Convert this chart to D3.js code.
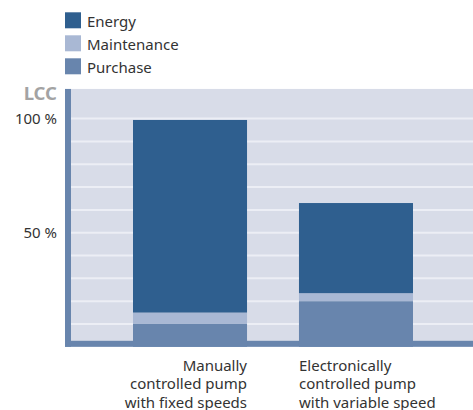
<!DOCTYPE html>
<html>
<head>
<meta charset="utf-8">
<script src="https://cdn.jsdelivr.net/npm/d3@7"></script>
<style>
  html, body { margin: 0; padding: 0; background: #fff; }
  svg { display: block; font-family: "Noto Sans", sans-serif; }
</style>
</head>
<body>
<svg id="chart" width="473" height="410"></svg>
<script>
// Life cycle cost shares (% of the fixed-speed pump's total)
const categories = ["Manually controlled pump with fixed speeds", "Electronically controlled pump with variable speed"];
const categoryLines = [
  ["Manually", "controlled pump", "with fixed speeds"],
  ["Electronically", "controlled pump", "with variable speed"]
];
const seriesNames = ["Purchase", "Maintenance", "Energy"];
const purchase = [10, 20];
const maintenance = [5, 3.5];
const energy = [84.4, 39.5];
const tickValues = [50, 100];
const tickLabels = ["50 %", "100 %"];
const gridValues = [10, 20, 30, 40, 50, 60, 70, 80, 90, 100];

const colors = { Purchase: "#6885ad", Maintenance: "#a9b8d4", Energy: "#2f5f8f" };
const legendOrder = ["Energy", "Maintenance", "Purchase"];

const svg = d3.select("#chart");

const y = d3.scaleLinear().domain([0, 100]).range([346.8, 118.6]);
const x = d3.scaleBand().domain(categories).range([133, 413]).paddingInner(0.313).paddingOuter(0);

const plotLeft = 71, plotRight = 473, plotTop = y(113), axisW = 6;

// plot background
svg.append("rect")
  .attr("x", plotLeft).attr("y", plotTop)
  .attr("width", plotRight - plotLeft).attr("height", y(0) - plotTop)
  .attr("fill", "#d8dce8");

// horizontal grid
svg.append("g").selectAll("line").data(gridValues).join("line")
  .attr("x1", plotLeft).attr("x2", plotRight)
  .attr("y1", d => y(d)).attr("y2", d => y(d))
  .attr("stroke", "#eceef5").attr("stroke-width", 2);

// axis bars (left and bottom)
svg.append("rect")
  .attr("x", plotLeft - axisW).attr("y", plotTop)
  .attr("width", axisW).attr("height", y(0) - plotTop)
  .attr("fill", "#6885ad");
svg.append("rect")
  .attr("x", plotLeft - axisW).attr("y", y(0) - axisW)
  .attr("width", plotRight - plotLeft + axisW).attr("height", axisW)
  .attr("fill", "#6885ad");

// stacked bars
const rows = categories.map((c, i) => ({ cat: c, Purchase: purchase[i], Maintenance: maintenance[i], Energy: energy[i] }));
const stacked = d3.stack().keys(seriesNames)(rows);
svg.append("g").selectAll("g").data(stacked).join("g")
  .attr("fill", s => colors[s.key])
  .selectAll("rect").data(s => s).join("rect")
  .attr("x", d => x(d.data.cat))
  .attr("width", x.bandwidth())
  .attr("y", d => y(d[1]))
  .attr("height", d => y(d[0]) - y(d[1]));

// y tick labels
svg.append("g").selectAll("text").data(tickValues).join("text")
  .attr("x", 57).attr("y", d => y(d) + 5)
  .attr("text-anchor", "end")
  .attr("font-size", 15).attr("fill", "#333")
  .text((d, i) => tickLabels[i]);

// axis title
svg.append("text")
  .attr("x", 57).attr("y", 99.5)
  .attr("text-anchor", "end")
  .attr("font-size", 18.5).attr("font-weight", "bold").attr("fill", "#a3a3a3")
  .text("LCC");

// category labels
const catG = svg.append("g").selectAll("text").data(categories).join("text")
  .attr("font-size", 15).attr("fill", "#333")
  .attr("text-anchor", (d, i) => i === 0 ? "end" : "start")
  .attr("x", (d, i) => i === 0 ? x(d) + x.bandwidth() : x(d));
catG.selectAll("tspan").data((d, i) => categoryLines[i].map(t => ({ t, i }))).join("tspan")
  .attr("x", function() { return this.parentNode.getAttribute("x"); })
  .attr("y", (d, j) => 370.7 + j * 18.5)
  .text(d => d.t);

// legend
const leg = svg.append("g").selectAll("g").data(legendOrder).join("g")
  .attr("transform", (d, i) => `translate(65, ${12.3 + i * 23})`);
leg.append("rect").attr("width", 16).attr("height", 16).attr("fill", d => colors[d]);
leg.append("text").attr("x", 22).attr("y", 14.3)
  .attr("font-size", 15).attr("fill", "#333").text(d => d);
</script>
</body>
</html>
